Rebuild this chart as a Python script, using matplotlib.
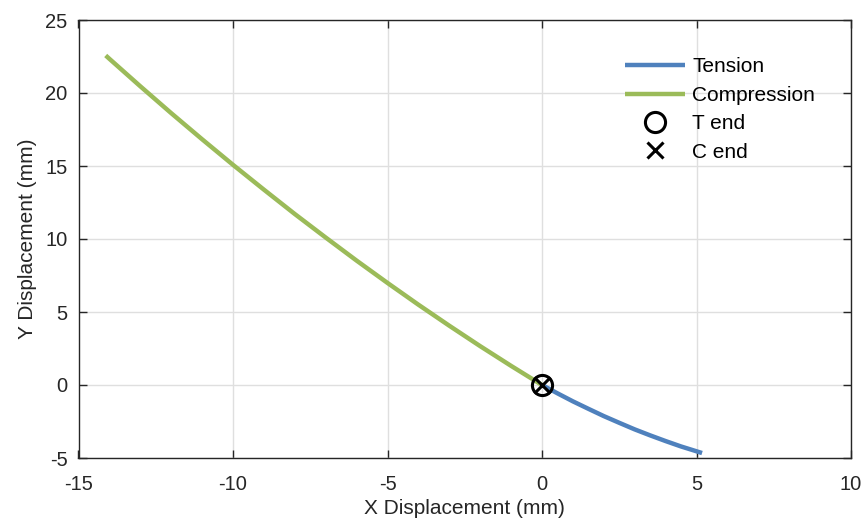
import matplotlib
matplotlib.use("Agg")
import matplotlib.pyplot as plt

# Data
tension_x = [0.0, 0.5, 1.0, 1.5, 2.0, 2.5, 3.0, 3.5, 4.0, 4.5, 5.0, 5.18]
tension_y = [0.0, -0.57, -1.12, -1.63, -2.13, -2.59, -3.04, -3.45, -3.84, -4.21, -4.54, -4.66]

compression_x = [0.0, -1.0, -2.0, -3.0, -4.0, -5.0, -6.0, -7.0, -8.0, -9.0,
                 -10.0, -11.0, -12.0, -13.0, -14.0, -14.12]
compression_y = [0.0, 1.31, 2.66, 4.06, 5.5, 6.99, 8.52, 10.1, 11.71, 13.38,
                 15.08, 16.83, 18.62, 20.46, 22.34, 22.57]

t_end = (0.0, 0.0)
c_end = (0.0, 0.0)

xticks = [-15, -10, -5, 0, 5, 10]
yticks = [-5, 0, 5, 10, 15, 20, 25]

plt.rcParams['font.family'] = ['Liberation Sans', 'DejaVu Sans']

W, H = 867, 524
fig = plt.figure(figsize=(W / 100, H / 100), dpi=100)
ax = fig.add_axes([78.5 / W, (H - 458) / H, (851 - 78.5) / W, (458 - 20) / H])

blue = '#4F81BD'
green = '#9BBB59'
dark = '#262626'

ax.plot(tension_x, tension_y, color=blue, lw=3.2, label='Tension',
        solid_capstyle='butt', solid_joinstyle='round', zorder=3)
ax.plot(compression_x, compression_y, color=green, lw=3.2, label='Compression',
        solid_capstyle='butt', solid_joinstyle='round', zorder=3)
ax.plot([t_end[0]], [t_end[1]], 'o', ms=14.5, mfc='none', mec='black', mew=2.2, label='T end', zorder=4)
ax.plot([c_end[0]], [c_end[1]], 'x', ms=11, mec='black', mew=2.2, label='C end', zorder=5)

ax.set_xlim(-15, 10)
ax.set_ylim(-5, 25)
ax.set_xticks(xticks)
ax.set_yticks(yticks)
ax.set_xticklabels([str(v) for v in xticks])
ax.set_yticklabels([str(v) for v in yticks])

ax.grid(True, color='#dfdfdf', lw=1.0)
ax.set_axisbelow(True)
for s in ax.spines.values():
    s.set_color(dark)
    s.set_linewidth(1.0)
ax.tick_params(direction='in', length=6, width=1.0, top=True, right=True,
               colors=dark, labelsize=14.5)
ax.tick_params(axis='x', pad=12)
ax.tick_params(axis='y', pad=8)
for lab in ax.get_xticklabels() + ax.get_yticklabels():
    lab.set_color(dark)

ax.set_xlabel('X Displacement (mm)', fontsize=15, color=dark, labelpad=4)
ax.set_ylabel('Y Displacement (mm)', fontsize=15, color=dark, labelpad=6)

leg = ax.legend(loc='upper left', bbox_to_anchor=(625 / W, 1 - 57.5 / H),
                bbox_transform=fig.transFigure, frameon=False, fontsize=15,
                handlelength=2.88, handletextpad=0.34, labelspacing=0.45,
                borderpad=0, borderaxespad=0)
for t in leg.get_texts():
    t.set_color('black')

fig.savefig('out.png', dpi=100)
